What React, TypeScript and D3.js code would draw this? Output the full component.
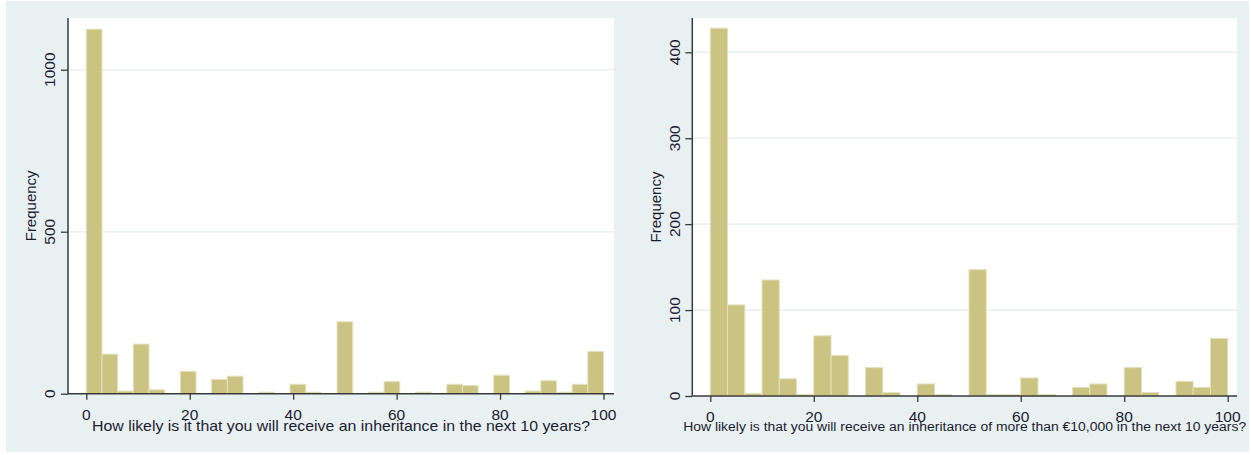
import React, { useEffect, useRef } from "react";
import * as d3 from "d3";

// bin frequencies (Stata-style histograms, 0..100)
const leftCounts = [
  1125, 122, 8, 153, 12, 0, 69, 0, 44, 54, 0, 4, 0, 29, 3, 0, 222, 0, 3, 37, 0, 3, 0, 29, 25, 0, 57, 0, 8, 40, 3,
  29, 130,
];
const rightCounts = [
  428, 106, 3, 135, 20, 1, 70, 47, 0, 33, 4, 0, 14, 1, 0, 147, 1, 1, 21, 1, 0, 10, 14, 0, 33, 4, 0, 17, 10, 67,
];
const xTicks = [0, 20, 40, 60, 80, 100];
const leftYTicks = [0, 500, 1000];
const rightYTicks = [0, 100, 200, 300, 400];
const leftTitle = "How likely is it that you will receive an inheritance in the next 10 years?";
const rightTitle = "How likely is that you will receive an inheritance of more than €10,000 in the next 10 years?";

const FONT = "'Liberation Sans', Arial, sans-serif";
const TEXT = "#1c1c30";
const BAR = "#cac382";
const BAR_EDGE = "#e4e0bb";
const GRID = "#e9f0f2";
const AXIS = "#3a3a3a";

type PanelProps = {
  counts: number[];
  yTicks: number[];
  yMax: number;
  title: string;
  titleSize: number;
  titleWidth: number;
  plot: { x0: number; x1: number; y0: number; y1: number };
  xRange: [number, number];
  yRange: [number, number];
  yLabelX: number;
  freqX: number;
};

const Panel = (props: PanelProps) => {
  const ref = useRef<SVGGElement>(null);

  useEffect(() => {
    const { counts, plot } = props;
    const x = d3.scaleLinear().domain([0, 100]).range(props.xRange);
    const y = d3.scaleLinear().domain([0, props.yMax]).range(props.yRange);
    const bw = 100 / counts.length;
    const g = d3.select(ref.current);
    g.selectAll("*").remove();

    g.append("rect")
      .attr("x", plot.x0)
      .attr("y", plot.y0)
      .attr("width", plot.x1 - plot.x0)
      .attr("height", plot.y1 - plot.y0)
      .attr("fill", "#fff");

    g.selectAll("line.grid")
      .data(props.yTicks.filter((t) => t > 0))
      .enter()
      .append("line")
      .attr("class", "grid")
      .attr("x1", plot.x0)
      .attr("x2", plot.x1)
      .attr("y1", (d) => y(d))
      .attr("y2", (d) => y(d))
      .attr("stroke", GRID)
      .attr("stroke-width", 1.6);

    g.selectAll("rect.bar")
      .data(counts.map((c, i) => ({ c, i })).filter((d) => d.c > 0))
      .enter()
      .append("rect")
      .attr("class", "bar")
      .attr("x", (d) => x(d.i * bw))
      .attr("width", (d) => x((d.i + 1) * bw) - x(d.i * bw))
      .attr("y", (d) => Math.min(y(d.c), y(0) - 1.5))
      .attr("height", (d) => Math.max(y(0) - y(d.c), 1.5))
      .attr("fill", BAR)
      .attr("stroke", BAR_EDGE)
      .attr("stroke-width", 1);

    // axes
    const xAxis = g
      .append("g")
      .attr("transform", `translate(0,${plot.y1})`)
      .call(d3.axisBottom(x).tickValues(xTicks).tickSize(6).tickFormat(() => ""));
    xAxis.select(".domain").remove();
    xAxis.selectAll("line").attr("stroke", AXIS).attr("stroke-width", 1.3);
    g.append("line")
      .attr("x1", plot.x0)
      .attr("x2", plot.x1)
      .attr("y1", plot.y1)
      .attr("y2", plot.y1)
      .attr("stroke", AXIS)
      .attr("stroke-width", 1.5);

    const yAxis = g
      .append("g")
      .attr("transform", `translate(${plot.x0},0)`)
      .call(d3.axisLeft(y).tickValues(props.yTicks).tickSize(7).tickFormat(() => ""));
    yAxis.select(".domain").remove();
    yAxis.selectAll("line").attr("stroke", AXIS).attr("stroke-width", 1.3);
    g.append("line")
      .attr("x1", plot.x0)
      .attr("x2", plot.x0)
      .attr("y1", plot.y0)
      .attr("y2", plot.y1)
      .attr("stroke", AXIS)
      .attr("stroke-width", 1.5);

    // tick labels
    g.selectAll("text.xt")
      .data(xTicks)
      .enter()
      .append("text")
      .attr("class", "xt")
      .attr("x", (d) => x(d))
      .attr("y", plot.y1 + 26)
      .attr("text-anchor", "middle")
      .attr("font-size", 15.5)
      .attr("font-family", FONT)
      .attr("fill", TEXT)
      .text((d) => d);

    g.selectAll("text.yt")
      .data(props.yTicks)
      .enter()
      .append("text")
      .attr("class", "yt")
      .attr("transform", (d) => `translate(${props.yLabelX},${y(d)}) rotate(-90)`)
      .attr("text-anchor", "middle")
      .attr("font-size", 15.5)
      .attr("font-family", FONT)
      .attr("fill", TEXT)
      .text((d) => d);

    g.append("text")
      .attr("transform", `translate(${props.freqX},${(plot.y0 + plot.y1) / 2}) rotate(-90)`)
      .attr("text-anchor", "middle")
      .attr("font-size", 15)
      .attr("font-family", FONT)
      .attr("fill", TEXT)
      .text("Frequency");

    g.append("text")
      .attr("x", (plot.x0 + plot.x1) / 2)
      .attr("y", 431)
      .attr("text-anchor", "middle")
      .attr("font-size", props.titleSize)
      .attr("font-family", FONT)
      .attr("fill", TEXT)
      .attr("textLength", props.titleWidth)
      .attr("lengthAdjust", "spacingAndGlyphs")
      .text(props.title);
  }, [props]);

  return <g ref={ref} />;
};

export default function App() {
  return (
    <svg width={1251} height={455} style={{ position: "absolute", left: 0, top: 0 }}>
      <rect x={0} y={0} width={1251} height={455} fill="#fff" />
      <rect x={6} y={1} width={1243} height={451} fill="#e8f0f2" />
      <Panel
        counts={leftCounts}
        yTicks={leftYTicks}
        yMax={1000}
        title={leftTitle}
        titleSize={15}
        titleWidth={498}
        plot={{ x0: 68, x1: 614, y0: 18, y1: 393.7 }}
        xRange={[86.3, 603.5]}
        yRange={[393.7, 69.7]}
        yLabelX={55}
        freqX={36}
      />
      <Panel
        counts={rightCounts}
        yTicks={rightYTicks}
        yMax={400}
        title={rightTitle}
        titleSize={12.5}
        titleWidth={563}
        plot={{ x0: 692.3, x1: 1237, y0: 18, y1: 396 }}
        xRange={[710.3, 1227.7]}
        yRange={[396, 52.3]}
        yLabelX={680}
        freqX={661}
      />
    </svg>
  );
}
